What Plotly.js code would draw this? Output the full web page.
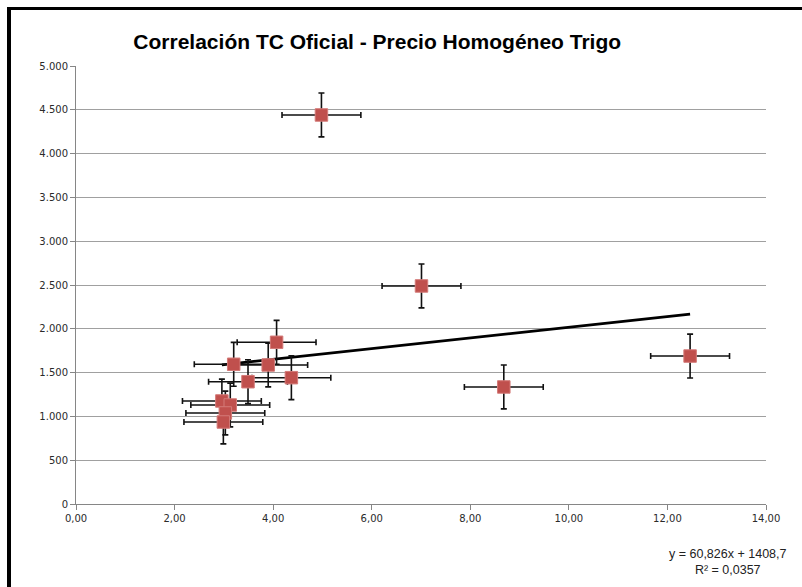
<!DOCTYPE html>
<html>
<head>
<meta charset="utf-8">
<script src="https://cdn.plot.ly/plotly-3.0.1.min.js"></script>
<style>
  html, body { margin: 0; padding: 0; background: #fff; width: 802px; height: 587px; overflow: hidden; }
  #frame { position: absolute; left: 7px; top: 7px; border-left: 4px solid #000; border-top: 3px solid #000; width: 791px; height: 577px; }
  #chart { width: 791px; height: 577px; }
</style>
</head>
<body>
<div id="frame"><div id="chart"></div></div>
<script>
// TC Oficial (x) vs Precio Homogéneo Trigo (y)
const tcOficial = [4.98, 7.01, 8.68, 12.46, 4.07, 3.20, 3.90, 3.49, 4.37, 2.96, 3.13, 3.03, 2.99];
const precioTrigo = [4441, 2489, 1336, 1689, 1846, 1595, 1587, 1396, 1442, 1176, 1130, 1039, 936];
const errorX = 0.8;
const errorY = 250;
const slope = 60.826;
const intercept = 1408.7;
const r2 = 0.0357;
const xTicks = [0, 2, 4, 6, 8, 10, 12, 14];
const yTicks = [0, 500, 1000, 1500, 2000, 2500, 3000, 3500, 4000, 4500, 5000];

const xMin = Math.min(...tcOficial), xMax = Math.max(...tcOficial);
const trendX = [xMin, xMax];
const trendY = trendX.map(v => slope * v + intercept);

const points = {
  x: tcOficial, y: precioTrigo, type: 'scatter', mode: 'markers',
  marker: { symbol: 'square', size: 12.5, color: '#C0504D', line: { color: '#D47A78', width: 1 } },
  error_x: { type: 'constant', value: errorX, color: '#111', thickness: 1.6, width: 3 },
  error_y: { type: 'constant', value: errorY, color: '#111', thickness: 1.6, width: 3 },
  showlegend: false, hoverinfo: 'x+y'
};
const trend = {
  x: trendX, y: trendY, type: 'scatter', mode: 'lines',
  line: { color: '#000', width: 2.8 }, showlegend: false
};

const layout = {
  width: 791, height: 577,
  margin: { l: 65, r: 36, t: 56, b: 83 },
  paper_bgcolor: '#fff', plot_bgcolor: '#fff',
  separators: ',.',
  font: { family: 'DejaVu Sans, Verdana, sans-serif', size: 10, color: '#333' },
  title: {
    text: '<b>Correlación TC Oficial - Precio Homogéneo Trigo</b>',
    font: { family: 'Liberation Sans, Arial, sans-serif', size: 21, color: '#000' },
    xref: 'container', yref: 'container', x: 0.463, y: 0.946, xanchor: 'center', yanchor: 'middle'
  },
  xaxis: {
    range: [0, 14], tickvals: xTicks, tickformat: '.2f',
    showgrid: false, zeroline: false, showline: true, linecolor: '#868686', linewidth: 1,
    ticks: 'outside', ticklen: 5, tickcolor: '#868686', tickfont: { size: 10, color: '#2a2a2a' }
  },
  yaxis: {
    range: [0, 5000], tickvals: yTicks, tickformat: ',.0f',
    showgrid: true, gridcolor: '#A0A0A0', gridwidth: 1,
    zeroline: false, showline: true, linecolor: '#868686', linewidth: 1,
    ticks: 'outside', ticklen: 5, tickcolor: '#868686', tickfont: { size: 10, color: '#2a2a2a' }
  },
  annotations: [{
    xref: 'paper', yref: 'paper', x: 0.945, y: -0.132, xanchor: 'center', yanchor: 'middle',
    text: 'y = ' + slope.toFixed(3).replace('.', ',') + 'x + ' + intercept.toFixed(1).replace('.', ',') + '<br>R² = ' + r2.toFixed(4).replace('.', ','),
    showarrow: false, align: 'center',
    font: { family: 'Liberation Sans, Arial, sans-serif', size: 12.5, color: '#222' }
  }]
};

Plotly.newPlot('chart', [trend, points], layout, { displayModeBar: false, staticPlot: true });
</script>
</body>
</html>
